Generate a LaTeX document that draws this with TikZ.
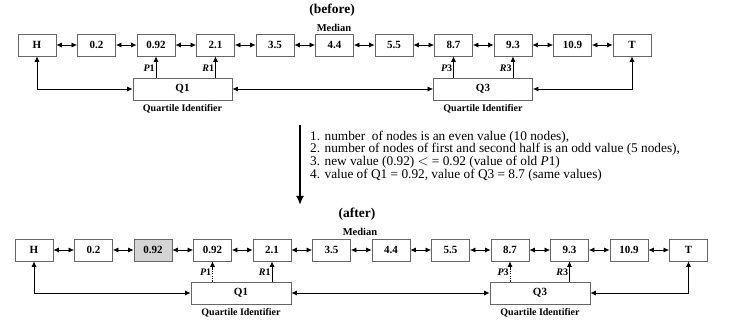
\documentclass[tikz,border=0pt]{standalone}
\usepackage{fontspec}
\setmainfont{Liberation Serif}
\usetikzlibrary{arrows.meta}
\begin{document}
\begin{tikzpicture}[x=1pt,y=-1pt,
  box/.style={draw=black!60, line width=0.8pt, minimum width=38pt, minimum height=22pt, inner sep=0pt, font=\fontsize{11}{12}\selectfont\bfseries},
  qbox/.style={draw=black!60, line width=0.8pt, minimum height=22pt, inner sep=0pt, font=\fontsize{11}{12}\selectfont\bfseries},
  link/.style={line width=0.7pt, {Latex[length=5.5pt,width=5pt]}-{Latex[length=5.5pt,width=5pt]}},
  ptr/.style={line width=0.7pt, -{Latex[length=5.5pt,width=5pt]}},
  dptr/.style={ptr, dash pattern=on 1.2pt off 1.2pt},
  lbl/.style={font=\fontsize{10}{11}\selectfont\bfseries, inner sep=1pt},
  plbl/.style={font=\fontsize{10}{11}\selectfont\bfseries, inner sep=1pt, anchor=east},
  ttl/.style={font=\fontsize{13.5}{14}\selectfont\bfseries, inner sep=0pt},
  med/.style={font=\fontsize{10.5}{11}\selectfont\bfseries, inner sep=0pt},
  listline/.style={anchor=west, inner sep=0pt, font=\fontsize{13.3}{14}\selectfont}
]
\useasboundingbox (0,0) rectangle (734,323);

% ---------- before ----------
\node[ttl] (before) at (332,10) {(before)};
\foreach \lab [count=\i from 0] in {H,0.2,0.92,2.1,3.5,4.4,5.5,8.7,9.3,10.9,T}
  \node[box] (t\i) at (37+59.5*\i,45) {\lab};
\foreach \i/\j in {0/1,1/2,2/3,3/4,4/5,5/6,6/7,7/8,8/9,9/10}
  \draw[link] (t\i.east) -- (t\j.west);
\node[med] (med1) at (334,28) {Median};

\node[qbox, minimum width=99pt] (q1t) at (182.5,89) {Q1};
\node[qbox, minimum width=99pt] (q3t) at (483,89) {Q3};
\node[lbl] (qi1t) at (182.5,109) {Quartile Identifier};
\node[lbl] (qi3t) at (483,109) {Quartile Identifier};

\draw[ptr] (q1t.north -| t2) -- node[plbl, pos=0.45] {\itshape P\upshape 1} (t2.south);
\draw[ptr] (q1t.north -| t3) -- node[plbl, pos=0.45] {\itshape R\upshape 1} (t3.south);
\draw[ptr] (q3t.north -| t7) -- node[plbl, pos=0.45] {\itshape P\upshape 3} (t7.south);
\draw[ptr] (q3t.north -| t8) -- node[plbl, pos=0.45] {\itshape R\upshape 3} (t8.south);
\draw[link] (t0.south) |- (q1t.west);
\draw[link] (q1t.east) -- (q3t.west);
\draw[link] (t10.south) |- (q3t.east);

% ---------- transition ----------
\coordinate (a0) at (300,125);
\coordinate (a1) at (300,205);
\draw[line width=2.6pt, -{Latex[length=9pt,width=8pt]}] (a0) -- (a1);
\node[listline] (l1) at (310,137) {1. number\ \ of nodes is an even value (10 nodes),};
\node[listline] (l2) at (310,149.7) {2. number of nodes of first and second half is an odd value (5 nodes),};
\node[listline] (l3) at (310,162.4) {3. new value (0.92) $<$ = 0.92 (value of old \textit{P}1)};
\node[listline] (l4) at (310,175.1) {4. value of Q1 = 0.92, value of Q3 = 8.7 (same values)};

% ---------- after ----------
\node[ttl] (after) at (357,214) {(after)};
\foreach \lab [count=\i from 0] in {H,0.2,0.92,0.92,2.1,3.5,4.4,5.5,8.7,9.3,10.9,T}
  \node[box] (b\i) at (34+59.5*\i,250) {\lab};
\path[fill=black!17] (b2.south west) rectangle (b2.north east);
\node[box] (b2x) at (b2) {0.92};
\foreach \i/\j in {0/1,1/2,2/3,3/4,4/5,5/6,6/7,7/8,8/9,9/10,10/11}
  \draw[link] (b\i.east) -- (b\j.west);
\node[med] (med2) at (360,232) {Median};

\node[qbox, minimum width=100pt] (q1b) at (241,293) {Q1};
\node[qbox, minimum width=100pt] (q3b) at (540,293) {Q3};
\node[lbl] (qi1b) at (241,313) {Quartile Identifier};
\node[lbl] (qi3b) at (540,313) {Quartile Identifier};

\draw[dptr] (q1b.north -| b3) -- node[plbl, pos=0.45] {\itshape P\upshape 1} (b3.south);
\draw[ptr] (q1b.north -| b4) -- node[plbl, pos=0.45] {\itshape R\upshape 1} (b4.south);
\draw[dptr] (q3b.north -| b8) -- node[plbl, pos=0.45] {\itshape P\upshape 3} (b8.south);
\draw[ptr] (q3b.north -| b9) -- node[plbl, pos=0.45] {\itshape R\upshape 3} (b9.south);
\draw[link] (b0.south) |- (q1b.west);
\draw[link] (q1b.east) -- (q3b.west);
\draw[link] (b11.south) |- (q3b.east);
\end{tikzpicture}
\end{document}
